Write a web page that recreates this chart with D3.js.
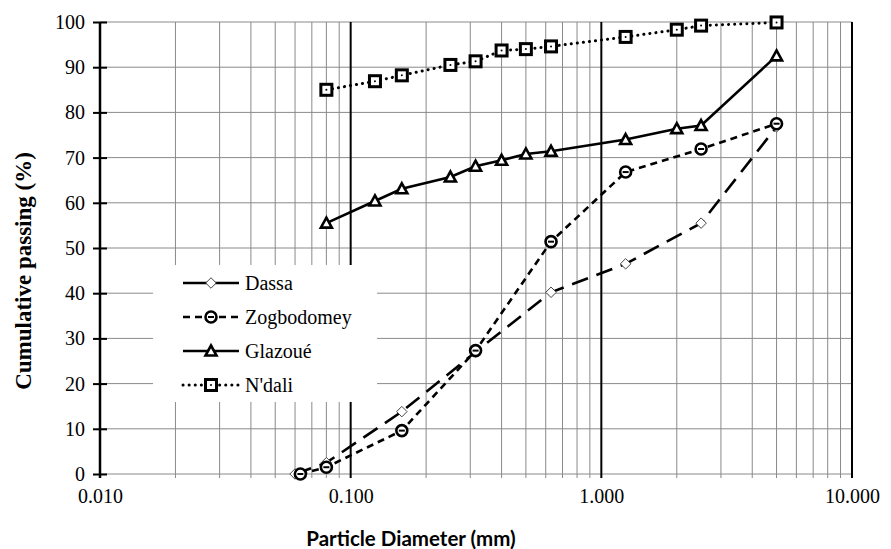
<!DOCTYPE html>
<html lang="en">
  <head>
    <meta charset="utf-8"/>
    <title>Cumulative passing curves</title>
    <script type="text/javascript" src="https://cdn.jsdelivr.net/npm/d3@7"></script>
    <style>
     body { margin: 0; background: #fff; }
     svg { display: block; }
    </style>
  </head>
  <body>
    <script type="text/javascript">
     // data ------------------------------------------------------------------------------
     let seriesNames = ["Dassa", "Zogbodomey", "Glazoué", "N'dali"];

     let dassaX = [0.06, 0.08, 0.16, 0.315, 0.63, 1.25, 2.5, 5];
     let dassaY = [0, 2.5, 13.8, 27, 40.2, 46.5, 55.5, 76.8];

     let zogX = [0.063, 0.08, 0.16, 0.315, 0.63, 1.25, 2.5, 5];
     let zogY = [0, 1.5, 9.6, 27.3, 51.4, 66.8, 71.9, 77.5];

     let glazX = [0.08, 0.125, 0.16, 0.25, 0.315, 0.4, 0.5, 0.63, 1.25, 2, 2.5, 5];
     let glazY = [55.5, 60.4, 63.1, 65.7, 68.1, 69.4, 70.8, 71.4, 74, 76.4, 77.1, 92.5];

     let ndaliX = [0.08, 0.125, 0.16, 0.25, 0.315, 0.4, 0.5, 0.63, 1.25, 2, 2.5, 5];
     let ndaliY = [85, 86.9, 88.2, 90.5, 91.3, 93.7, 94, 94.6, 96.7, 98.3, 99.2, 99.9];

     let xTicks = [0.01, 0.1, 1, 10];
     let yTicks = [0, 10, 20, 30, 40, 50, 60, 70, 80, 90, 100];

     // setup ------------------------------------------------------------------------------
     let w = 891, h = 549;
     let plotL = 100, plotR = 852, plotT = 22, plotB = 474;
     let serif = "'Liberation Serif', 'Times New Roman', serif";

     let svg = d3.select("body").append("svg")
       .attr("width", w)
       .attr("height", h);

     let x = d3.scaleLog().domain([0.01, 10]).range([plotL, plotR]);
     let y = d3.scaleLinear().domain([0, 100]).range([plotB, plotT]);

     // minor vertical gridlines (2..9 in each decade)
     let minor = [];
     [0.01, 0.1, 1].forEach(d => { for (let k = 2; k <= 9; k++) minor.push(d * k); });

     svg.append("g").selectAll("line")
       .data(minor)
       .enter()
       .append("line")
       .attr("x1", d => x(d)).attr("x2", d => x(d))
       .attr("y1", plotT).attr("y2", plotB + 4)
       .attr("stroke", "#8a8a8a")
       .attr("stroke-width", 1);

     // horizontal gridlines
     svg.append("g").selectAll("line")
       .data(yTicks)
       .enter()
       .append("line")
       .attr("x1", plotL).attr("x2", plotR)
       .attr("y1", d => y(d)).attr("y2", d => y(d))
       .attr("stroke", "#8a8a8a")
       .attr("stroke-width", 1);

     // major vertical lines at 0.1, 1, 10
     svg.append("g").selectAll("line")
       .data(xTicks.slice(1))
       .enter()
       .append("line")
       .attr("x1", d => x(d)).attr("x2", d => x(d))
       .attr("y1", plotT).attr("y2", plotB + 4)
       .attr("stroke", "#000")
       .attr("stroke-width", 2);

     // y axis (ticks cross the axis line)
     let yAxis = svg.append("g")
       .attr("transform", "translate(" + plotL + ",0)")
       .call(d3.axisLeft(y).tickValues(yTicks).tickSize(7).tickPadding(8));
     yAxis.select(".domain").attr("stroke-width", 2.5).attr("d", "M0," + (plotB + 4) + "V" + plotT);
     yAxis.selectAll(".tick line").attr("x1", 7).attr("stroke-width", 2);
     yAxis.selectAll("text")
       .style("font-family", serif)
       .style("font-size", "20px")
       .attr("fill", "#000");

     // x axis labels
     let xAxis = svg.append("g")
       .attr("transform", "translate(0," + plotB + ")")
       .call(d3.axisBottom(x).tickValues(xTicks).tickFormat(d3.format(".3f")).tickSize(0).tickPadding(15));
     xAxis.select(".domain").remove();
     xAxis.selectAll("text")
       .style("font-family", serif)
       .style("font-size", "20px")
       .attr("fill", "#000");

     // axis titles
     svg.append("text")
       .text("Particle Diameter (mm)")
       .attr("x", 411)
       .attr("y", 546)
       .attr("text-anchor", "middle")
       .style("font-family", "Lato, sans-serif")
       .style("font-weight", "bold")
       .style("font-size", "20.5px");

     svg.append("text")
       .text("Cumulative passing (%)")
       .attr("transform", "translate(31,271) rotate(-90)")
       .attr("text-anchor", "middle")
       .style("font-family", serif)
       .style("font-weight", "bold")
       .style("font-size", "23px");

     // series -----------------------------------------------------------------------------
     let series = [
       {name: seriesNames[0], xs: dassaX, ys: dassaY, dash: "17,9", marker: "diamond", cap: "butt"},
       {name: seriesNames[1], xs: zogX, ys: zogY, dash: "7,5", marker: "circle", cap: "butt"},
       {name: seriesNames[2], xs: glazX, ys: glazY, dash: null, marker: "triangle", cap: "butt"},
       {name: seriesNames[3], xs: ndaliX, ys: ndaliY, dash: "0.1,6", marker: "square", cap: "round"}
     ];

     let line = d3.line().x(d => x(d[0])).y(d => y(d[1]));

     function drawMarker(g, type, cx, cy) {
       if (type === "diamond") {
         g.append("path")
           .attr("d", d3.symbol().type(d3.symbolDiamond2).size(70)())
           .attr("transform", "translate(" + cx + "," + cy + ")")
           .attr("fill", "#fff").attr("stroke", "#444").attr("stroke-width", 1);
       } else if (type === "circle") {
         g.append("circle").attr("cx", cx).attr("cy", cy).attr("r", 5.5)
           .attr("fill", "#fff").attr("stroke", "#000").attr("stroke-width", 2.6);
         g.append("line").attr("x1", cx - 3).attr("x2", cx + 3).attr("y1", cy).attr("y2", cy)
           .attr("stroke", "#000").attr("stroke-width", 2);
       } else if (type === "triangle") {
         g.append("path")
           .attr("d", "M0,-5.5L5.5,4.5L-5.5,4.5Z")
           .attr("transform", "translate(" + cx + "," + cy + ")")
           .attr("fill", "#fff").attr("stroke", "#000").attr("stroke-width", 2.6)
           .attr("stroke-linejoin", "miter");
       } else {
         g.append("rect").attr("x", cx - 5.5).attr("y", cy - 5.5).attr("width", 11).attr("height", 11)
           .attr("fill", "#fff").attr("stroke", "#000").attr("stroke-width", 3);
         g.append("circle").attr("cx", cx).attr("cy", cy).attr("r", 1).attr("fill", "#000");
       }
     }

     series.forEach(s => {
       let pts = s.xs.map((v, i) => [v, s.ys[i]]);
       svg.append("path")
         .datum(pts)
         .attr("d", line)
         .attr("fill", "none")
         .attr("stroke", "#000")
         .attr("stroke-width", s.marker === "square" ? 3 : 2.6)
         .attr("stroke-dasharray", s.dash)
         .attr("stroke-linecap", s.cap);
       let g = svg.append("g");
       pts.forEach(p => drawMarker(g, s.marker, x(p[0]), y(p[1])));
     });

     // legend -----------------------------------------------------------------------------
     svg.append("rect")
       .attr("x", 153).attr("y", 265)
       .attr("width", 224).attr("height", 137)
       .attr("fill", "#fff");

     let legendDash = [null, "7,5", null, "0.1,6"];
     series.forEach((s, i) => {
       let ly = 283 + i * 34;
       let g = svg.append("g");
       g.append("line")
         .attr("x1", 183).attr("x2", 239)
         .attr("y1", ly).attr("y2", ly)
         .attr("stroke", "#000")
         .attr("stroke-width", s.marker === "square" ? 3 : 2.6)
         .attr("stroke-dasharray", legendDash[i])
         .attr("stroke-linecap", s.cap);
       drawMarker(g, s.marker, 211, ly);
       g.append("text")
         .text(s.name)
         .attr("x", 245)
         .attr("y", ly + 7)
         .style("font-family", serif)
         .style("font-size", "20px");
     });
    </script>
  </body>
</html>
